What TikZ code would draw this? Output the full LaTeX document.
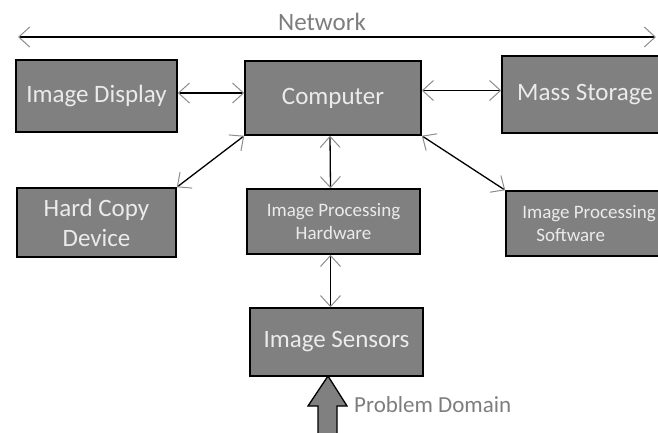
\documentclass[tikz,border=0pt]{standalone}
\usepackage{fontspec}
\setmainfont{Carlito}
\usetikzlibrary{arrows.meta}
\definecolor{boxgray}{RGB}{128,128,128}
\definecolor{labelgray}{RGB}{125,125,125}
\definecolor{tipgray}{RGB}{140,140,140}
\begin{document}
\begin{tikzpicture}[x=1pt,y=-1pt,
  blk/.style={draw=black,line width=1.5pt,fill=boxgray,text=white!92!black,inner sep=0pt,
    align=center,font=\fontsize{25}{30}\selectfont},
  blksmall/.style={blk,font=\fontsize{19}{23}\selectfont},
  link/.style={line width=1.3pt,>={Straight Barb[length=11pt,width=20pt,line width=1pt,color=tipgray]},<->},
  lbl/.style={text=labelgray,inner sep=0pt}]
\useasboundingbox (0,0) rectangle (658,432);
\clip (0,0) rectangle (658,432);

\coordinate (netL) at (18,37);
\coordinate (netR) at (656,37);
\draw[link] (netL) -- (netR);
\node[lbl,font=\fontsize{25}{30}\selectfont] (net) at (322,22) {Network};

\node[blk,minimum width=161pt,minimum height=72pt] (disp) at (96.5,96) {Image Display};
\node[blk,minimum width=176pt,minimum height=74pt] (comp) at (333,98) {Computer};
\node[blk,minimum width=166pt,minimum height=77pt] (mass) at (585,94.5) {Mass Storage};
\node[blk,minimum width=159pt,minimum height=69pt] (hard) at (96.5,222.5) {Hard Copy\\Device};
\node[blksmall,minimum width=173pt,minimum height=65pt] (hw) at (333.5,221.5) {Image Processing\\Hardware};
\node[blksmall,align=left,minimum width=166pt,minimum height=65pt] (sw) at (589,223.5) {Image Processing\\\hspace*{14pt}Software};
\node[blk,minimum width=173pt,minimum height=68pt] (sens) at (336.5,342) {Image Sensors};

\draw[link] ([yshift=3pt]disp.east) -- ([yshift=3pt]disp.east -| comp.west);
\draw[link] ([yshift=4pt]comp.east |- mass.west) -- ([yshift=4pt]mass.west);
\draw[link] (comp.south west) -- (hard.north east);
\draw[link] ([xshift=-3pt]comp.south) -- ([xshift=-3pt]hw.north);
\draw[link] (comp.south east) -- (sw.north west);
\draw[link] ([xshift=-3pt]hw.south) -- ([xshift=-3pt]hw.south |- sens.north);

% input from the problem domain
\coordinate (tip) at (328,376);
\filldraw[fill=boxgray,draw=black,line width=1.3pt,line join=miter]
  (tip) -- ++(19,30) -- ++(-10,0) -- ++(0,40) -- ++(-19,0) -- ++(0,-40) -- ++(-10,0) -- cycle;
\node[lbl,anchor=west,font=\fontsize{23}{28}\selectfont] (prob) at (354,405) {Problem Domain};
\end{tikzpicture}
\end{document}
